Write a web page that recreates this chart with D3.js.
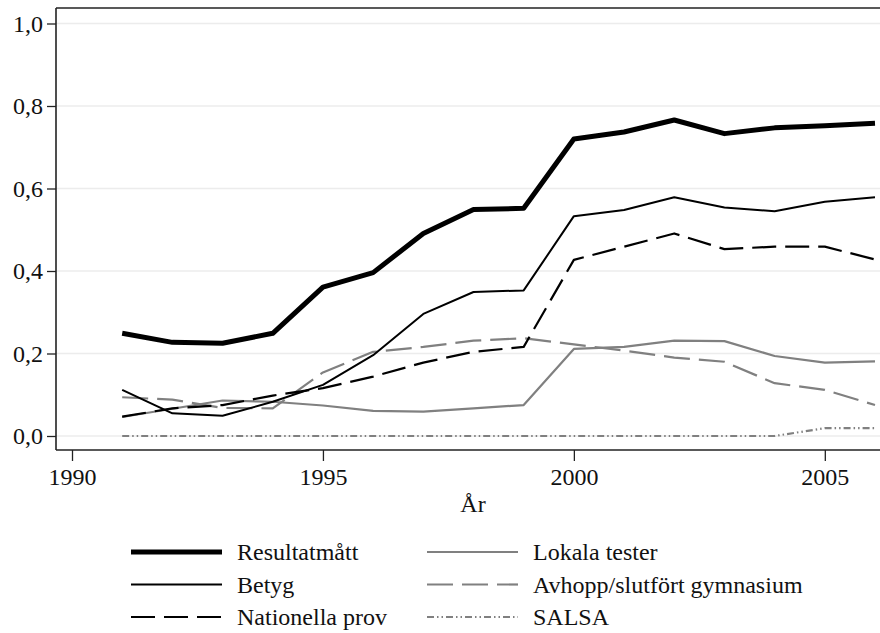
<!DOCTYPE html>
<html>
<head>
<meta charset="utf-8">
<script src="https://cdn.jsdelivr.net/npm/d3@7"></script>
<style>
	body { margin: 0; background: #fff; }
	svg text { font-family: 'Liberation Serif', 'Times New Roman', Times, 'DejaVu Serif', serif; fill: #111; }
</style>
</head>
<body>
<svg id="chart" width="880" height="633"></svg>
<script>

var years = [1991, 1992, 1993, 1994, 1995, 1996, 1997, 1998, 1999, 2000, 2001, 2002, 2003, 2004, 2005, 2006];

var resultatmatt = [0.249, 0.227, 0.225, 0.249, 0.361, 0.396, 0.491, 0.549, 0.552, 0.720, 0.737, 0.766, 0.733, 0.747, 0.752, 0.758];
var betyg = [0.112, 0.055, 0.049, 0.083, 0.124, 0.196, 0.296, 0.349, 0.353, 0.533, 0.548, 0.579, 0.554, 0.545, 0.568, 0.579];
var nationellaProv = [0.047, 0.067, 0.075, 0.098, 0.116, 0.144, 0.178, 0.204, 0.216, 0.427, 0.459, 0.491, 0.453, 0.459, 0.459, 0.428];
var lokalaTester = [0.046, 0.066, 0.086, 0.083, 0.074, 0.061, 0.059, 0.067, 0.075, 0.211, 0.216, 0.231, 0.230, 0.194, 0.178, 0.181];
var avhopp = [0.094, 0.088, 0.068, 0.067, 0.154, 0.204, 0.216, 0.231, 0.237, 0.222, 0.207, 0.190, 0.180, 0.128, 0.112, 0.075];
var salsa = [0, 0, 0, 0, 0, 0, 0, 0, 0, 0, 0, 0, 0, 0, 0.019, 0.019];

var xTicks = [1990, 1995, 2000, 2005];
var yTicks = [0, 0.2, 0.4, 0.6, 0.8, 1.0];

var series = [
	{ name: "Resultatmått", values: resultatmatt, color: "#000", width: 5, dash: null, col: 0, row: 0 },
	{ name: "Betyg", values: betyg, color: "#000", width: 2, dash: null, col: 0, row: 1 },
	{ name: "Nationella prov", values: nationellaProv, color: "#000", width: 2.2, dash: "24,9", col: 0, row: 2 },
	{ name: "Lokala tester", values: lokalaTester, color: "#808080", width: 2.2, dash: null, col: 1, row: 0 },
	{ name: "Avhopp/slutfört gymnasium", values: avhopp, color: "#808080", width: 2.2, dash: "26,9", col: 1, row: 1 },
	{ name: "SALSA", values: salsa, color: "#808080", width: 2.2, dash: "7,3,1.5,3,1.5,3", col: 1, row: 2 }
];

var serifFont = "'Liberation Serif', 'Times New Roman', Times, 'DejaVu Serif', serif";

var svg = d3.select("#chart")
	.attr("font-family", serifFont);

var plotLeft = 56, plotRight = 880, plotTop = 8, plotBottom = 450;

var x = d3.scaleLinear().domain([1990, 2006]).range([72, 875]);
var y = d3.scaleLinear().domain([0, 1]).range([436, 23.5]);

var fmt = function(d) { return d3.format(".1f")(d).replace(".", ","); };

// gridlines
svg.append("g")
	.selectAll("line")
	.data(yTicks)
	.enter()
	.append("line")
	.attr("x1", plotLeft)
	.attr("x2", plotRight)
	.attr("y1", function(d) { return y(d); })
	.attr("y2", function(d) { return y(d); })
	.style("stroke", "#ececec")
	.attr("stroke-width", 1.5);

// frame
svg.append("line")
	.attr("x1", plotLeft).attr("x2", plotRight)
	.attr("y1", plotTop).attr("y2", plotTop)
	.style("stroke", "#222").attr("stroke-width", 1.6);
svg.append("line")
	.attr("x1", plotLeft).attr("x2", plotRight)
	.attr("y1", plotBottom).attr("y2", plotBottom)
	.style("stroke", "#222").attr("stroke-width", 1.6);
svg.append("line")
	.attr("x1", plotLeft).attr("x2", plotLeft)
	.attr("y1", plotTop).attr("y2", plotBottom)
	.style("stroke", "#222").attr("stroke-width", 1.6);

// y axis
var yAxis = svg.append("g")
	.attr("transform", "translate(" + plotLeft + ",0)")
	.call(d3.axisLeft(y).tickValues(yTicks).tickFormat(fmt).tickSize(9).tickPadding(4));
yAxis.attr("font-family", serifFont).attr("font-size", 24);
yAxis.select(".domain").remove();
yAxis.selectAll("line").style("stroke", "#222").attr("stroke-width", 1.3);
yAxis.selectAll("text")
	.style("font-family", serifFont)
	.style("font-size", "24px")
	.attr("fill", "#111");

// x axis
var xAxis = svg.append("g")
	.attr("transform", "translate(0," + plotBottom + ")")
	.call(d3.axisBottom(x).tickValues(xTicks).tickFormat(d3.format("d")).tickSize(11).tickPadding(7));
xAxis.attr("font-family", serifFont).attr("font-size", 24);
xAxis.select(".domain").remove();
xAxis.selectAll("line").style("stroke", "#222").attr("stroke-width", 1.3);
xAxis.selectAll("text")
	.style("font-family", serifFont)
	.style("font-size", "24px")
	.attr("fill", "#111");

svg.append("text")
	.attr("x", 473)
	.attr("y", 512)
	.attr("text-anchor", "middle")
	.style("font-family", serifFont)
	.style("font-size", "24px")
	.text("År");

// lines
var line = d3.line()
	.x(function(d, i) { return x(years[i]); })
	.y(function(d) { return y(d); });

var drawOrder = [5, 4, 3, 2, 1, 0];
drawOrder.forEach(function(k)
{
	var s = series[k];
	svg.append("path")
		.datum(s.values)
		.attr("d", line)
		.style("fill", "none")
		.style("stroke", s.color)
		.attr("stroke-width", s.width)
		.attr("stroke-linejoin", "round")
		.attr("stroke-dasharray", s.dash);
});

// legend
var legendX = [131, 427], legendY = [552, 584.5, 617];

var legend = svg.selectAll(".legend")
	.data(series)
	.enter()
	.append("g")
	.attr("class", "legend")
	.attr("transform", function(d)
	{
		return "translate(" + legendX[d.col] + "," + legendY[d.row] + ")";
	});

legend.append("line")
	.attr("x1", 0)
	.attr("x2", 91)
	.attr("y1", 0)
	.attr("y2", 0)
	.style("stroke", function(d) { return d.color; })
	.attr("stroke-width", function(d) { return d.width; })
	.attr("stroke-dasharray", function(d) { return d.dash; });

legend.append("text")
	.attr("x", 106)
	.attr("y", 8)
	.style("font-family", serifFont)
	.style("font-size", "24px")
	.text(function(d) { return d.name; });

</script>
</body>
</html>
